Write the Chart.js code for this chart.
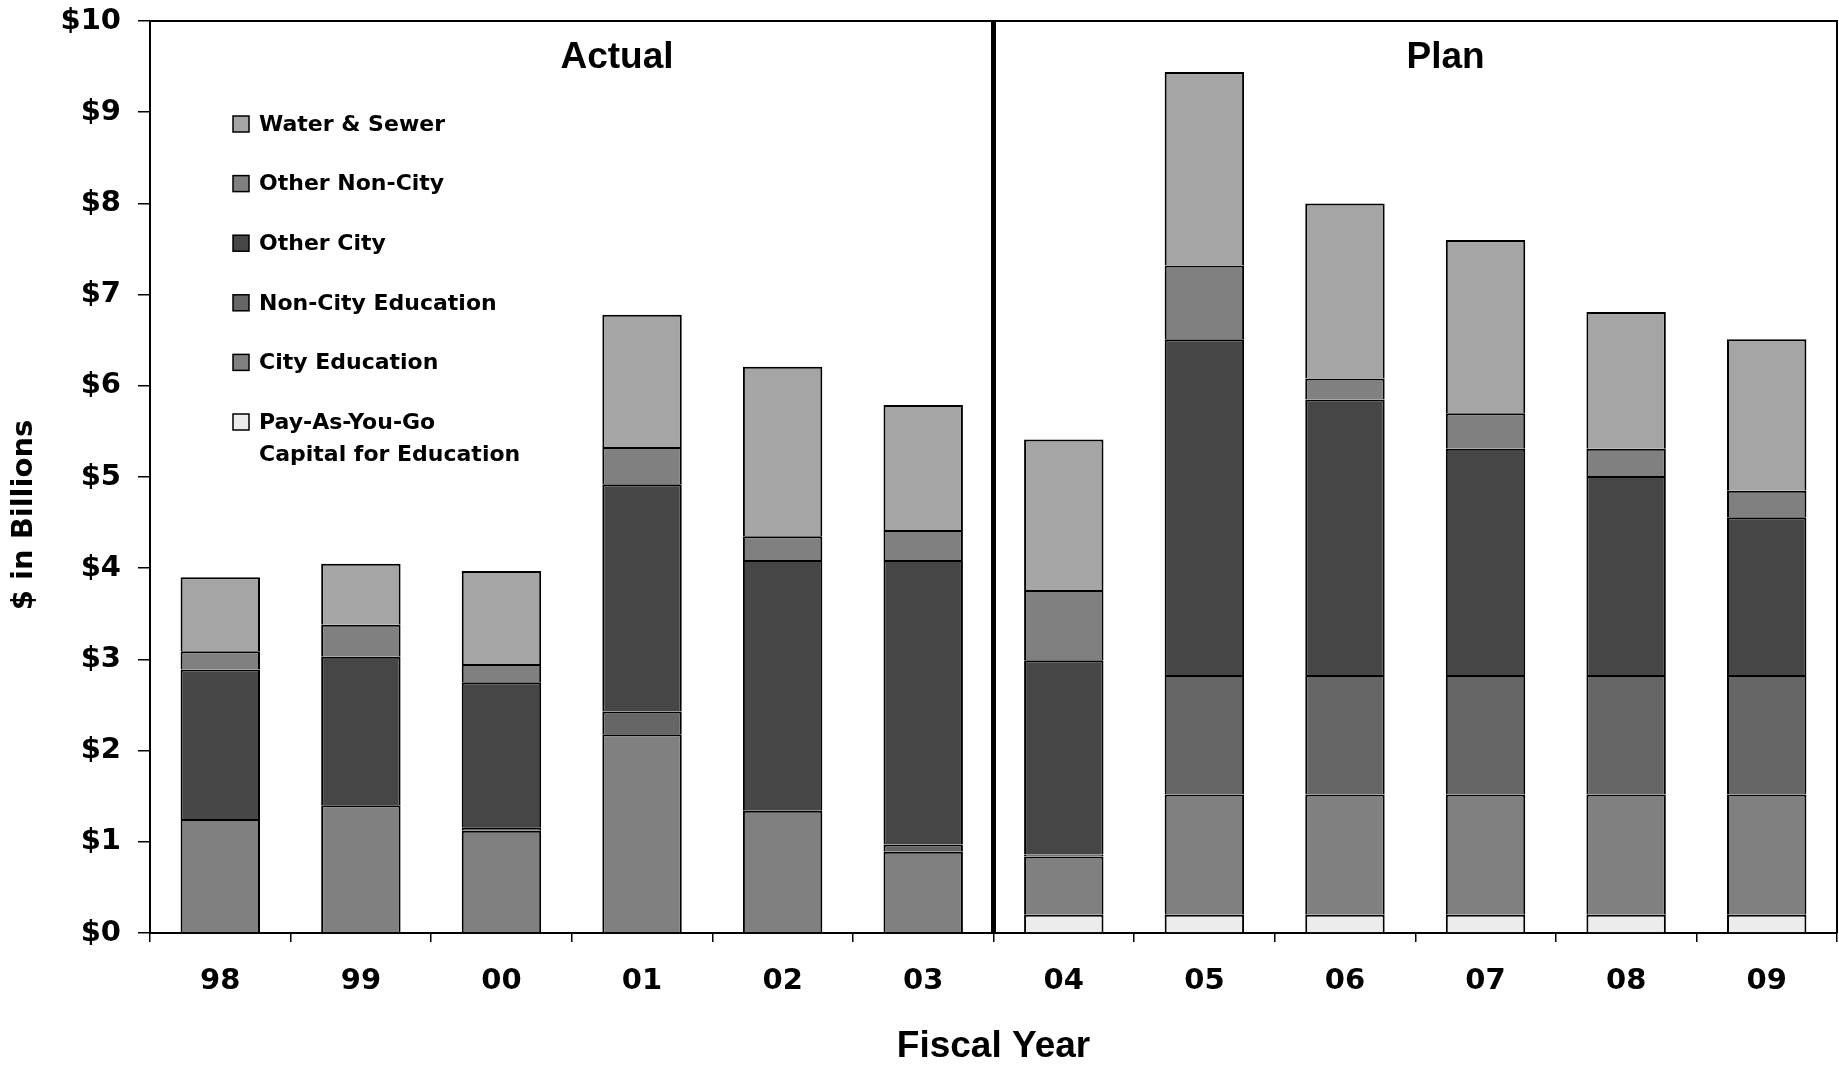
<!DOCTYPE html>
<html>
<head>
<meta charset="utf-8">
<title>Capital Commitments by Program Area</title>
<script src="https://cdn.jsdelivr.net/npm/chart.js@4/dist/chart.umd.min.js"></script>
<style>
  html, body { margin: 0; padding: 0; background: #fff; }
  canvas { display: block; }
</style>
</head>
<body>
<canvas id="chart" width="1839" height="1071"></canvas>
<script>
// Fiscal years (Actual: 98-03, Plan: 04-09)
const years = ['98', '99', '00', '01', '02', '03', '04', '05', '06', '07', '08', '09'];

// $ in billions, stacked bottom to top
const payAsYouGo      = [0,    0,    0,    0,    0,    0,    0.20, 0.20, 0.20, 0.20, 0.20, 0.20];
const cityEducation   = [1.25, 1.40, 1.12, 2.18, 1.34, 0.89, 0.64, 1.32, 1.32, 1.32, 1.32, 1.32];
const nonCityEducation= [0,    0,    0.04, 0.25, 0,    0.08, 0.02, 1.31, 1.31, 1.31, 1.31, 1.31];
const otherCity       = [1.64, 1.63, 1.59, 2.49, 2.75, 3.12, 2.13, 3.68, 3.02, 2.48, 2.18, 1.73];
const otherNonCity    = [0.20, 0.35, 0.20, 0.41, 0.26, 0.33, 0.77, 0.81, 0.23, 0.39, 0.30, 0.29];
const waterSewer      = [0.81, 0.67, 1.02, 1.45, 1.86, 1.37, 1.65, 2.12, 1.92, 1.90, 1.50, 1.66];

const yTicks = [0, 1, 2, 3, 4, 5, 6, 7, 8, 9, 10];
const periodLabels = ['Actual', 'Plan'];

const BOLD_SANS = '"DejaVu Sans", Verdana, sans-serif';
const ARIAL_BOLD = '"Liberation Sans", Arial, sans-serif';

// Each segment draws its top and side edges; the segment above (or the
// x axis) supplies the line along its bottom, so every seam is one line.
function series(label, values, color) {
  return {
    label: label,
    data: values.map(v => (v === 0 ? null : v)),
    backgroundColor: color,
    borderColor: '#000',
    borderWidth: 2,
    borderSkipped: 'start',
    barPercentage: 0.565,
    categoryPercentage: 1.0
  };
}

const datasets = [
  series(['Pay-As-You-Go', 'Capital for Education'], payAsYouGo, '#ececec'),
  series('City Education', cityEducation, '#808080'),
  series('Non-City Education', nonCityEducation, '#666666'),
  series('Other City', otherCity, '#464646'),
  series('Other Non-City', otherNonCity, '#808080'),
  series('Water & Sewer', waterSewer, '#a5a5a5')
];

// Frame, Actual/Plan divider, period labels, legend and axis titles
const decorations = {
  id: 'decorations',
  afterDatasetsDraw(chart) {
    const ctx = chart.ctx;
    const area = chart.chartArea;
    const x = chart.scales.x;
    ctx.save();

    // top and right frame lines
    ctx.strokeStyle = '#000';
    ctx.lineWidth = 2;
    ctx.beginPath();
    ctx.moveTo(area.left, area.top);
    ctx.lineTo(area.right, area.top);
    ctx.lineTo(area.right, area.bottom);
    ctx.stroke();

    // divider between actual and planned years
    const divX = (x.getPixelForValue(5) + x.getPixelForValue(6)) / 2;
    ctx.lineWidth = 5;
    ctx.beginPath();
    ctx.moveTo(divX, area.top);
    ctx.lineTo(divX, area.bottom);
    ctx.stroke();

    // period labels
    ctx.fillStyle = '#000';
    ctx.font = 'bold 37px ' + ARIAL_BOLD;
    ctx.textAlign = 'center';
    ctx.textBaseline = 'alphabetic';
    ctx.fillText(periodLabels[0], x.getPixelForValue(3) - 25, 67.5);
    ctx.fillText(periodLabels[1], x.getPixelForValue(9) - 40, 67.5);

    // legend (top series first)
    ctx.font = 'bold 22px ' + BOLD_SANS;
    ctx.textAlign = 'left';
    ctx.textBaseline = 'middle';
    const rowY0 = 124, rowStep = 59.6;
    const items = chart.data.datasets.slice().reverse();
    items.forEach((ds, i) => {
      const cy = rowY0 + i * rowStep;
      ctx.fillStyle = ds.backgroundColor;
      ctx.fillRect(233, cy - 8, 16, 16);
      ctx.lineWidth = 1.5;
      ctx.strokeStyle = '#000';
      ctx.strokeRect(233, cy - 8, 16, 16);
      ctx.fillStyle = '#000';
      const lines = Array.isArray(ds.label) ? ds.label : [ds.label];
      lines.forEach((t, j) => ctx.fillText(t, 259, cy + 1 + j * 32));
    });

    // axis titles
    ctx.font = 'bold 37px ' + ARIAL_BOLD;
    ctx.textAlign = 'center';
    ctx.textBaseline = 'alphabetic';
    ctx.fillText('Fiscal Year', (area.left + area.right) / 2, 1057);

    ctx.translate(32, 515);
    ctx.rotate(-Math.PI / 2);
    ctx.font = 'bold 29px ' + BOLD_SANS;
    ctx.textBaseline = 'alphabetic';
    ctx.fillText('$ in Billions', 0, 0);
    ctx.restore();
  }
};

new Chart(document.getElementById('chart'), {
  type: 'bar',
  data: { labels: years, datasets: datasets },
  options: {
    responsive: false,
    animation: false,
    devicePixelRatio: 1,
    layout: { padding: { top: 21, right: 2, left: 0, bottom: 0 } },
    plugins: {
      legend: { display: false },
      tooltip: { enabled: false },
      title: { display: false }
    },
    scales: {
      x: {
        stacked: true,
        grid: {
          offset: true,
          drawOnChartArea: false,
          drawTicks: true,
          tickLength: 9,
          color: '#000',
          lineWidth: 1.5
        },
        border: { display: true, color: '#000', width: 2 },
        ticks: {
          color: '#000',
          font: { family: BOLD_SANS, size: 29, weight: 'bold' },
          padding: 22,
          maxRotation: 0,
          autoSkip: false
        },
        afterFit(scale) {
          scale.height = 138;
          scale.paddingLeft = 0;
          scale.paddingRight = 0;
        }
      },
      y: {
        stacked: true,
        min: yTicks[0],
        max: yTicks[yTicks.length - 1],
        afterBuildTicks(scale) { scale.ticks = yTicks.map(v => ({ value: v })); },
        grid: {
          drawOnChartArea: false,
          drawTicks: true,
          tickLength: 12,
          color: '#000',
          lineWidth: 1.5
        },
        border: { display: true, color: '#000', width: 2 },
        ticks: {
          color: '#000',
          font: { family: BOLD_SANS, size: 29, weight: 'bold' },
          padding: 17,
          callback: v => '$' + v
        },
        afterFit(scale) {
          scale.width = 150;
          scale.paddingTop = 0;
          scale.paddingBottom = 0;
        }
      }
    }
  },
  plugins: [decorations]
});
</script>
</body>
</html>
